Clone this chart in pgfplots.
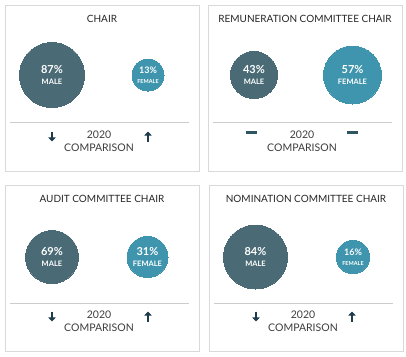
\documentclass[border=0pt]{standalone}
\usepackage{pgfplots}
\pgfplotsset{compat=1.18}
\usetikzlibrary{arrows.meta}
\usepackage{fontspec}
\setmainfont{Lato}
\definecolor{male}{HTML}{4A6B75}
\definecolor{female}{HTML}{3F95AD}
\definecolor{arrowc}{HTML}{1E3C4C}
\definecolor{dashc}{HTML}{2F5563}
\definecolor{framegray}{HTML}{D9D9D9}
\definecolor{sepgray}{HTML}{CCCCCC}
\definecolor{titlec}{HTML}{262626}
\definecolor{compc}{HTML}{3C3C3C}

\newcommand\biglab[1]{{\fontsize{11}{12}\selectfont\bfseries\pgfplotspointmeta\%}\\[-1.5pt]{\fontsize{7.5}{8}\selectfont\bfseries #1}}
\newcommand\smlab[1]{{\fontsize{9}{10}\selectfont\bfseries\pgfplotspointmeta\%}\\[-2pt]{\fontsize{5.5}{6}\selectfont\bfseries #1}}

\pgfplotsset{
  panel/.style={width=194pt,height=166pt,scale only axis,
    xmin=0,xmax=194,ymin=0,ymax=166,y dir=reverse,
    axis lines=box,ticks=none,
    axis line style={draw=framegray,line width=0.7pt},
    clip=false,anchor=north west},
  bubble/.style 2 args={only marks,mark=*,mark size=#1,color=#2,
    mark options={draw=#2,fill=#2,line width=0pt},
    point meta=explicit symbolic,
    every node near coord/.append style={anchor=center,align=center,text=white,inner sep=0pt}},
  sep/.style={sepgray,line width=0.6pt,mark=none},
}

\newcommand\paneltext[1]{%
  \node[font=\fontsize{10}{12}\selectfont,text=titlec] at (axis cs:97,14) {#1};
  \node[font=\fontsize{10.5}{12}\selectfont,text=compc] at (axis cs:94,130) {2020};
  \node[font=\fontsize{10.5}{12}\selectfont,text=compc] at (axis cs:94,143) {COMPARISON};
}
\newcommand\arrows{%
  \draw[arrowc,line width=1.9pt,-{Triangle[length=4.2pt,width=7.5pt]}] (axis cs:47,126.5) -- (axis cs:47,136.5);
  \draw[arrowc,line width=1.9pt,-{Triangle[length=4.2pt,width=7.5pt]}] (axis cs:143,136.5) -- (axis cs:143,126.5);
}

\begin{document}
\begin{tikzpicture}
\path[use as bounding box] (0pt,0pt) rectangle (406pt,-356pt);

% Panel 1: Chair
\begin{axis}[panel,at={(5pt,-5pt)}]
\addplot[bubble={32.5}{male},nodes near coords={\biglab{MALE}}] table[meta=pct]{
x y pct
47 70 87
};
\addplot[bubble={16}{female},nodes near coords={\smlab{FEMALE}}] table[meta=pct]{
x y pct
143 70 13
};
\addplot[sep] coordinates {(5,117.5) (184,117.5)};
\paneltext{CHAIR}
\arrows
\end{axis}

% Panel 2: Remuneration Committee Chair
\begin{axis}[panel,at={(208pt,-5pt)}]
\addplot[bubble={23.5}{male},nodes near coords={\biglab{MALE}}] table[meta=pct]{
x y pct
46 70 43
};
\addplot[bubble={29}{female},nodes near coords={\biglab{FEMALE}}] table[meta=pct]{
x y pct
144.5 70 57
};
\addplot[sep] coordinates {(5,117.5) (184,117.5)};
\addplot[dashc,line width=2.5pt,mark=none] coordinates {(38,127.5) (49,127.5)};
\addplot[dashc,line width=2.5pt,mark=none] coordinates {(139,127.5) (150,127.5)};
\paneltext{REMUNERATION COMMITTEE CHAIR}
\end{axis}

% Panel 3: Audit Committee Chair
\begin{axis}[panel,at={(5pt,-185pt)}]
\addplot[bubble={26.5}{male},nodes near coords={\biglab{MALE}}] table[meta=pct]{
x y pct
47 72 69
};
\addplot[bubble={20.5}{female},nodes near coords={\biglab{FEMALE}}] table[meta=pct]{
x y pct
142.5 72 31
};
\addplot[sep] coordinates {(5,118) (184,118)};
\paneltext{AUDIT COMMITTEE CHAIR}
\arrows
\end{axis}

% Panel 4: Nomination Committee Chair
\begin{axis}[panel,at={(209pt,-185pt)}]
\addplot[bubble={32}{male},nodes near coords={\biglab{MALE}}] table[meta=pct]{
x y pct
46.5 72 84
};
\addplot[bubble={16.7}{female},nodes near coords={\smlab{FEMALE}}] table[meta=pct]{
x y pct
144 72 16
};
\addplot[sep] coordinates {(5,118.5) (184,118.5)};
\paneltext{NOMINATION COMMITTEE CHAIR}
\arrows
\end{axis}
\end{tikzpicture}
\end{document}
